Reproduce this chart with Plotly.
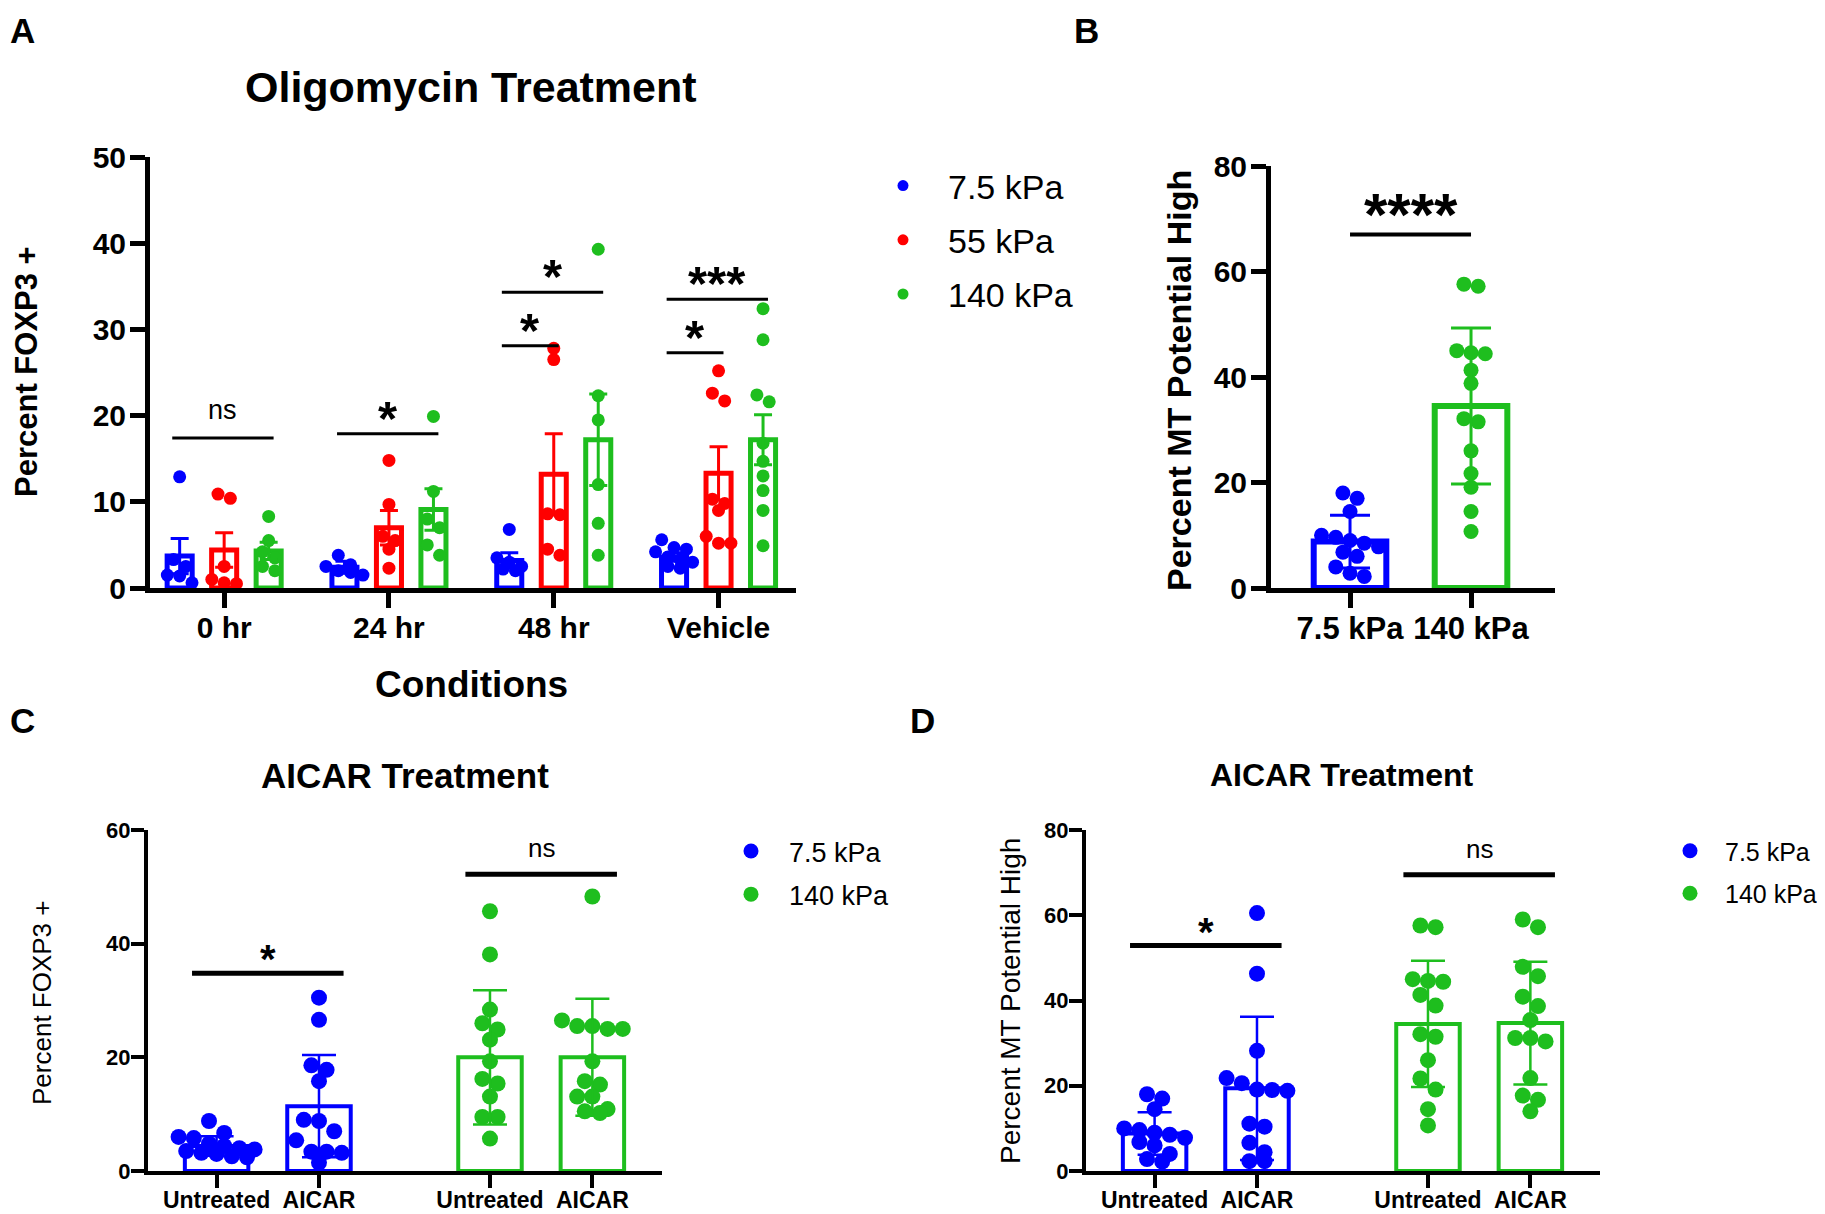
import numpy as np
import plotly.graph_objects as go

# ---------------- data ----------------
A_categories = ["0 hr", "24 hr", "48 hr", "Vehicle"]
A_series = ["7.5 kPa", "55 kPa", "140 kPa"]
A_mean_75 = [3.7, 2.4, 3.2, 3.6]
A_mean_55 = [4.4, 7.0, 13.2, 13.3]
A_mean_140 = [4.3, 9.1, 17.2, 17.2]
A_sem_75 = [2.05, 0.7, 0.9, 0.5]
A_sem_55 = [2.0, 2.0, 4.7, 3.1]
A_sem_140 = [1.0, 2.4, 5.3, 2.9]
A_pts_75 = [[12.9, 3.3, 2.5, 1.5, 0.6, 1.4],
            [3.8, 2.7, 2.5, 2.0, 1.8, 1.5],
            [6.8, 3.5, 3.0, 2.5, 2.2, 2.0],
            [5.6, 4.7, 4.5, 4.2, 3.6, 3.3, 3.0, 2.5, 2.3]]
A_pts_55 = [[10.9, 10.4, 2.5, 1.0, 0.5, 0.6],
            [14.8, 9.7, 6.0, 5.5, 4.5, 2.3],
            [27.8, 26.5, 8.6, 8.5, 4.5, 3.8],
            [25.2, 22.6, 21.7, 10.3, 9.8, 9.0, 6.0, 5.2, 5.2]]
A_pts_140 = [[8.3, 5.5, 4.2, 3.5, 2.5, 2.0],
             [19.9, 11.2, 8.0, 7.0, 5.0, 3.8],
             [39.3, 22.3, 19.5, 12.0, 7.5, 3.8],
             [32.4, 28.8, 22.4, 21.6, 16.8, 14.7, 13.0, 11.3, 9.0, 4.9]]
# (category, from series, to series, bracket height, label)
A_sig = [(0, 0, 2, 17.4, "ns"), (1, 0, 2, 17.9, "*"), (2, 0, 1, 28.1, "*"),
         (2, 0, 2, 34.3, "*"), (3, 0, 1, 27.3, "*"), (3, 0, 2, 33.5, "***")]

B_categories = ["7.5 kPa", "140 kPa"]
B_mean = [8.8, 34.5]
B_sd = [5.0, 14.8]
B_pts_75 = [18.0, 17.0, 14.5, 10.0, 9.6, 9.0, 8.5, 7.8, 6.8, 6.0, 4.0, 2.8, 2.2]
B_pts_140 = [57.6, 57.2, 45.0, 44.6, 44.4, 41.3, 38.8, 32.1, 31.5, 26.0, 21.7, 19.1, 14.5, 10.7]
B_sig = [(0, 1, 67.0, "****")]

CD_ticklabels = ["Untreated", "AICAR", "Untreated", "AICAR"]
CD_series = ["7.5 kPa", "140 kPa"]
C_mean_75 = [4.4, 11.4]
C_sd_75 = [1.7, 9.0]
C_mean_140 = [20.0, 20.0]
C_sd_140 = [11.8, 10.3]
C_pts_75 = [[8.8, 6.7, 6.0, 5.8, 4.8, 4.4, 4.0, 3.8, 3.5, 3.2, 3.0, 2.6, 2.4],
            [30.5, 26.6, 18.6, 17.8, 15.8, 9.0, 8.8, 7.0, 5.4, 3.4, 3.4, 3.2, 1.5]]
C_pts_140 = [[45.7, 38.1, 28.4, 26.0, 24.9, 23.1, 19.3, 16.2, 15.4, 13.1, 9.5, 9.5, 5.7],
             [48.3, 26.5, 25.5, 25.5, 25.0, 25.0, 19.3, 15.8, 15.2, 13.1, 13.1, 10.9, 10.5, 10.2]]
C_sig = [(0, 34.8, "*"), (1, 52.2, "ns")]

D_mean_75 = [8.8, 19.4]
D_sd_75 = [5.0, 16.8]
D_mean_140 = [34.5, 34.7]
D_sd_140 = [14.8, 14.4]
D_pts_75 = [B_pts_75,
            [60.5, 46.3, 28.2, 21.8, 20.6, 19.1, 19.0, 18.8, 11.1, 10.4, 6.6, 4.4, 2.3, 2.3]]
D_pts_140 = [B_pts_140,
             [59.0, 57.2, 47.9, 45.7, 40.9, 38.7, 35.4, 31.2, 31.2, 30.4, 21.8, 17.7, 16.7, 14.0]]
D_sig = [(0, 52.9, "*"), (1, 69.5, "ns")]

# ---------------- style ----------------
PAGE_W, PAGE_H = 1825, 1214
OFF = 8                      # default page margin of the html body
W, H = PAGE_W - OFF, PAGE_H - OFF
FONT = "Liberation Sans, Arial, Helvetica, sans-serif"
BLUE, RED, GREEN = "#0000ff", "#ff0000", "#1ebe1e"

fig = go.Figure()


def px_x(p):
    return (p - OFF) / W


def px_y(p):
    return 1 - (p - OFF) / H


def swarm(values, d, ppx, ppy):
    """row-based dot arrangement (like Prism scatter), returns x offsets in data units"""
    vals = np.asarray(values, float)
    order = np.argsort(-vals)
    offs = np.zeros(len(vals))
    rows, cur = [], []
    for i in order:
        if cur and (vals[cur[0]] - vals[i]) * ppy >= d * 0.85:
            rows.append(cur)
            cur = []
        cur.append(i)
    if cur:
        rows.append(cur)
    for r in rows:
        n = len(r)
        for k, i in enumerate(r):
            offs[i] = (k - (n - 1) / 2) * d * 0.95 / ppx
    return offs


def axes(n, xdom, ydom, xr, yr, xt, xtt, ytv, xfs, yfs, lw, tl, xso, yso):
    sx = "" if n == 1 else str(n)
    common = dict(showline=True, linewidth=lw, linecolor="black", ticks="outside",
                  ticklen=tl, tickwidth=lw, tickcolor="black", showgrid=False,
                  zeroline=False, fixedrange=True, automargin=False)
    fig.layout["xaxis" + sx] = dict(domain=[px_x(xdom[0]), px_x(xdom[1])], range=xr,
                                    anchor="y" + sx, tickvals=xt, ticktext=xtt,
                                    tickfont=dict(family=FONT, size=xfs, color="black",
                                                  weight="bold"),
                                    ticklabelstandoff=xso, **common)
    fig.layout["yaxis" + sx] = dict(domain=[px_y(ydom[1]), px_y(ydom[0])], range=yr,
                                    anchor="x" + sx, tickvals=ytv,
                                    tickfont=dict(family=FONT, size=yfs, color="black",
                                                  weight="bold"),
                                    ticklabelstandoff=yso, **common)
    return "x" + sx, "y" + sx


def group(xa, ya, pos, means, errs, pts, color, barw, blw, dsize, ppx, ppy, ethick, ewidth):
    fig.add_trace(go.Bar(x=pos, y=means, width=barw, xaxis=xa, yaxis=ya,
                         marker=dict(color="white", line=dict(color=color, width=blw)),
                         showlegend=False, hoverinfo="skip"))
    xs, ys = [], []
    for p, vals in zip(pos, pts):
        o = swarm(vals, dsize, ppx, ppy)
        xs += list(p + o)
        ys += list(vals)
    fig.add_trace(go.Scatter(x=xs, y=ys, mode="markers", xaxis=xa, yaxis=ya,
                             marker=dict(size=dsize, color=color, line=dict(width=0)),
                             cliponaxis=False, showlegend=False))
    fig.add_trace(go.Scatter(x=pos, y=means, mode="markers", xaxis=xa, yaxis=ya,
                             marker=dict(size=1, color="rgba(0,0,0,0)"),
                             error_y=dict(type="data", array=errs, color=color,
                                          thickness=ethick, width=ewidth),
                             cliponaxis=False, showlegend=False))


def bracket(xa, ya, x0, x1, y, label, lw, fs, bold, yshift):
    fig.add_shape(type="line", xref=xa, yref=ya, x0=x0, x1=x1, y0=y, y1=y,
                  line=dict(color="black", width=lw))
    fig.add_annotation(xref=xa, yref=ya, x=(x0 + x1) / 2, y=y, text=label,
                       showarrow=False, yanchor="middle", yshift=yshift,
                       font=dict(family=FONT, size=fs, color="black",
                                 weight="bold" if bold else "normal"))


def label(x, y, text, size, bold=True, angle=0):
    fig.add_annotation(xref="paper", yref="paper", x=px_x(x), y=px_y(y), text=text,
                       showarrow=False, xanchor="center", yanchor="middle", textangle=angle,
                       font=dict(family=FONT, size=size, color="black",
                                 weight="bold" if bold else "normal"))


# ---------------- Panel A ----------------
xa, ya = axes(1, (150, 796), (157, 588), [-0.45, 3.47], [0, 50], [0, 1, 2, 3], A_categories,
              [0, 10, 20, 30, 40, 50], 30, 30, 5, 15, -6, -2)
A_off = [-0.27, 0.0, 0.27]
ppx_A, ppy_A = 165, (588 - 157) / 50
cats = np.arange(len(A_categories))
for j, (m, e, p, c) in enumerate([(A_mean_75, A_sem_75, A_pts_75, BLUE),
                                  (A_mean_55, A_sem_55, A_pts_55, RED),
                                  (A_mean_140, A_sem_140, A_pts_140, GREEN)]):
    group(xa, ya, cats + A_off[j], m, e, p, c, 0.152, 5, 13, ppx_A, ppy_A, 3, 9)
for g, f, t, h, lab in A_sig:
    x0 = g + A_off[f] - 0.045
    x1 = g + A_off[t] + 0.03
    if lab == "ns":
        bracket(xa, ya, x0, x1, h, lab, 3, 27, False, 28)
    else:
        bracket(xa, ya, x0, x1, h, lab, 3, 49, True, 16)

# ---------------- Panel B ----------------
xb, yb = axes(2, (1271, 1555), (166, 588), [-0.653, 1.694], [0, 80], [0, 1], B_categories,
              [0, 20, 40, 60, 80], 31, 30, 5, 15, -6, -2)
ppx_B, ppy_B = 121, (588 - 166) / 80
group(xb, yb, [0], [B_mean[0]], [B_sd[0]], [B_pts_75], BLUE, 0.60, 6, 15, ppx_B, ppy_B, 3, 20)
group(xb, yb, [1], [B_mean[1]], [B_sd[1]], [B_pts_140], GREEN, 0.60, 6, 15, ppx_B, ppy_B, 3, 20)
for f, t, h, lab in B_sig:
    bracket(xb, yb, f, t, h, lab, 4, 60, True, 20)

# ---------------- Panel C & D ----------------
pos_cd = np.array([0.0, 1.0])
gap = 2.67
for n, dom, yr, ytv, m75, s75, p75, m140, s140, p140, sig, ppy in [
        (3, (148, 662), [0, 60], [0, 20, 40, 60], C_mean_75, C_sd_75, C_pts_75,
         C_mean_140, C_sd_140, C_pts_140, C_sig, (1171 - 830) / 60),
        (4, (1086, 1600), [0, 80], [0, 20, 40, 60, 80], D_mean_75, D_sd_75, D_pts_75,
         D_mean_140, D_sd_140, D_pts_140, D_sig, (1171 - 830) / 80)]:
    xr = [-0.67, 4.35]
    ppx = (dom[1] - dom[0]) / (xr[1] - xr[0])
    ticks = list(pos_cd) + list(pos_cd + gap)
    xc, yc = axes(n, dom, (830, 1171), xr, yr, ticks, CD_ticklabels, ytv, 23, 22, 4, 13, -8, -4)
    group(xc, yc, pos_cd, m75, s75, p75, BLUE, 0.62, 4, 16, ppx, ppy, 2.5, 17)
    group(xc, yc, pos_cd + gap, m140, s140, p140, GREEN, 0.62, 4, 16, ppx, ppy, 2.5, 17)
    for g, h, lab in sig:
        x0 = g * gap - 0.24
        x1 = g * gap + 1 + 0.24
        if lab == "ns":
            bracket(xc, yc, x0, x1, h, lab, 5, 26, False, 26)
        else:
            bracket(xc, yc, x0, x1, h, lab, 5, 40, True, 14)

# ---------------- legends ----------------
for name, c, lg, grp, sz in [("7.5 kPa", BLUE, "legend", "a1", 11), ("55 kPa", RED, "legend", "a2", 11),
                             ("140 kPa", GREEN, "legend", "a3", 11),
                             ("7.5 kPa", BLUE, "legend2", "c1", 15), ("140 kPa", GREEN, "legend2", "c2", 15),
                             ("7.5 kPa", BLUE, "legend3", "d1", 15), ("140 kPa", GREEN, "legend3", "d2", 15)]:
    fig.add_trace(go.Scatter(x=[None], y=[None], mode="markers", name=name,
                             marker=dict(size=sz, color=c), legend=lg, legendgroup=grp,
                             showlegend=True))

leg_common = dict(xanchor="left", yanchor="top", bgcolor="rgba(0,0,0,0)", borderwidth=0,
                  itemclick=False, itemdoubleclick=False)
fig.update_layout(
    legend=dict(x=px_x(858), y=px_y(157), font=dict(family=FONT, size=34, color="black"),
                tracegroupgap=7, itemwidth=80, **leg_common),
    legend2=dict(x=px_x(713), y=px_y(827), font=dict(family=FONT, size=27, color="black"),
                 tracegroupgap=5, itemwidth=66, **leg_common),
    legend3=dict(x=px_x(1655), y=px_y(828), font=dict(family=FONT, size=25, color="black"),
                 tracegroupgap=7, itemwidth=60, **leg_common),
)

# ---------------- texts ----------------
label(22, 30, "A", 35)
label(1086, 30, "B", 35)
label(22, 720, "C", 35)
label(922, 720, "D", 35)
label(471, 87, "Oligomycin Treatment", 43)
label(471, 684, "Conditions", 37)
label(405, 775, "AICAR Treatment", 35)
label(1342, 775, "AICAR Treatment", 32)
label(27, 372, "Percent FOXP3 +", 31, True, -90)
label(1179, 381, "Percent MT Potential High", 34, True, -90)
label(42, 1003, "Percent FOXP3 +", 26, False, -90)
label(1010, 1001, "Percent MT Potential High", 28, False, -90)

fig.update_layout(width=W, height=H,
                  margin=dict(l=0, r=0, t=0, b=0, pad=0, autoexpand=False),
                  plot_bgcolor="white", paper_bgcolor="white", barmode="overlay",
                  showlegend=True, font=dict(family=FONT, color="black"))

fig.write_html("out.html")
